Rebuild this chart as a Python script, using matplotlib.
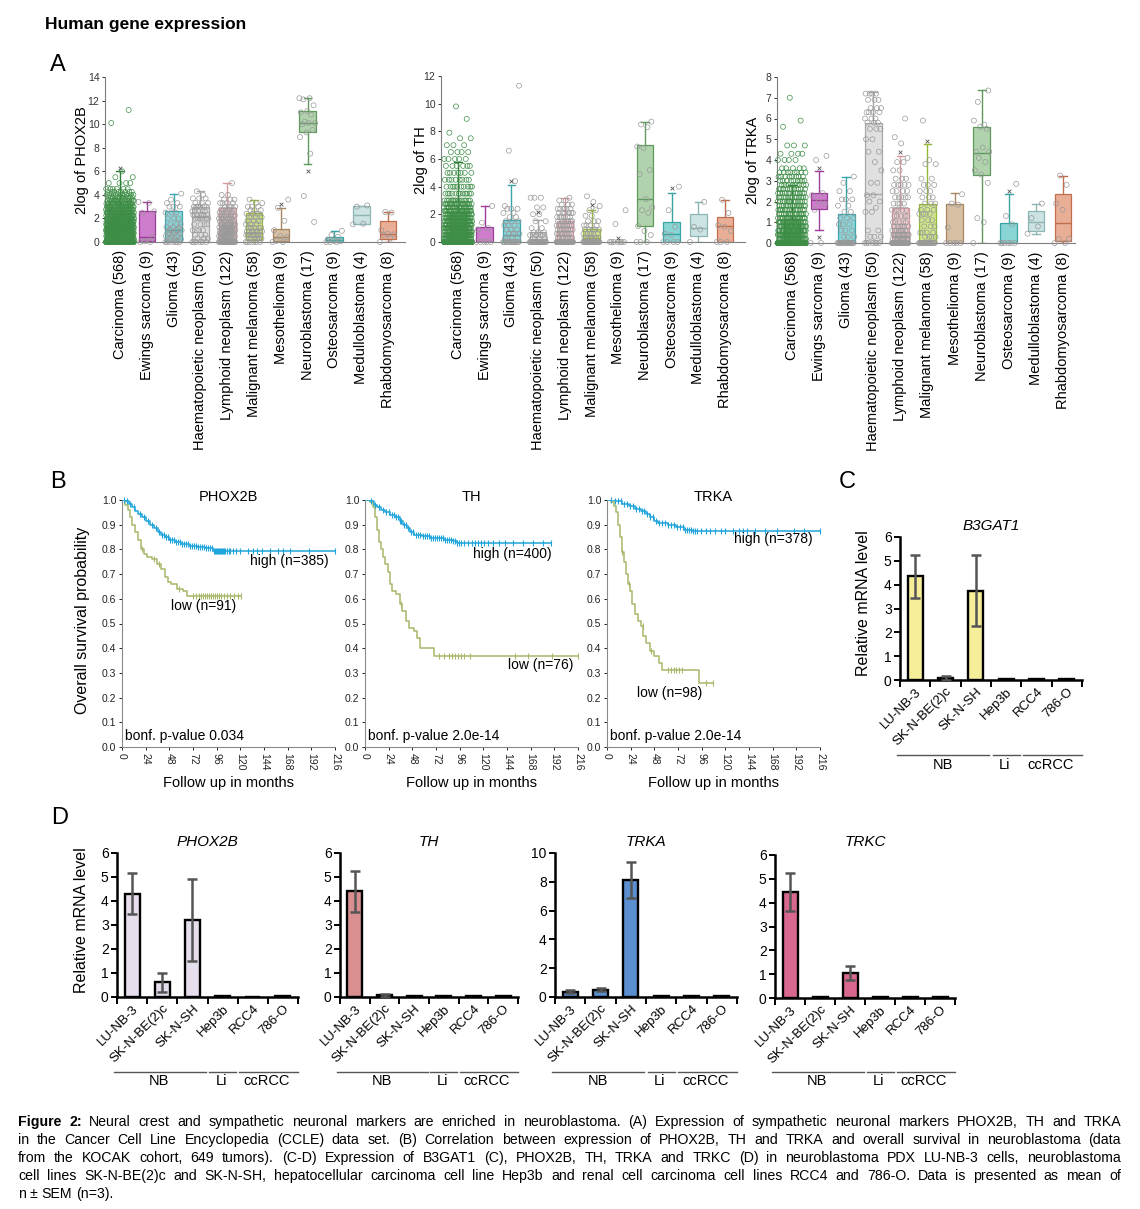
import numpy as np
import matplotlib
matplotlib.use("Agg")
import matplotlib.pyplot as plt
from matplotlib.colors import to_rgba
from matplotlib.transforms import blended_transform_factory

W, H = 1140, 1209
plt.rcParams['font.family'] = ['Liberation Sans', 'DejaVu Sans']


def binned(levels, counts):
    # expand a (value, count) reading of a dense dot cloud
    return list(np.repeat(levels, counts))


# ---------------- panel A : CCLE expression ----------------
TUMOURS = ["Carcinoma (568)", "Ewings sarcoma (9)", "Glioma (43)",
           "Haematopoietic neoplasm (50)", "Lymphoid neoplasm (122)",
           "Malignant melanoma (58)", "Mesothelioma (9)", "Neuroblastoma (17)",
           "Osteosarcoma (9)", "Medulloblastoma (4)", "Rhabdomyosarcoma (8)"]
BOX_FILL = ["#4BA85A", "#C15DBF", "#6CCBD0", "#D9D9D9", "#F7C1C7", "#C3E06A",
            "#CDB08E", "#9CC99A", "#6CCBCB", "#BFDCDC", "#E49A7C"]
BOX_EDGE = ["#2F7D3A", "#9C3D9A", "#3BA5AB", "#A8A8A8", "#D99AA2", "#94B83A",
            "#A88660", "#5F9A5D", "#3AA3A3", "#8FB5B5", "#C06E4E"]

# q1, median, q3, whisker low, whisker high
PHOX2B_BOX = [[0.2, 1.0, 2.4, 0.0, 6.0], [0.1, 0.45, 2.6, 0.0, 3.4],
              [0.0, 1.0, 2.6, 0.0, 4.1], [0.0, 2.1, 3.0, 0.0, 4.3],
              [0.0, 1.4, 2.9, 0.0, 5.0], [0.2, 0.8, 2.5, 0.0, 3.6],
              [0.1, 0.45, 1.1, 0.0, 2.9], [9.3, 10.1, 11.15, 6.6, 12.2],
              [0.0, 0.2, 0.45, 0.0, 0.95], [1.5, 2.3, 3.05, 1.5, 3.05],
              [0.25, 0.7, 1.75, 0.0, 2.55]]
TH_BOX = [[0.0, 0.4, 2.2, 0.0, 5.8], [0.0, 0.0, 1.1, 0.0, 2.6],
          [0.0, 0.5, 1.6, 0.0, 4.1], [0.0, 0.0, 0.7, 0.0, 1.6],
          [0.0, 0.0, 1.5, 0.0, 3.2], [0.0, 0.3, 0.95, 0.0, 2.3],
          [0.0, 0.0, 0.0, 0.0, 0.0], [1.15, 3.1, 7.0, 0.0, 8.7],
          [0.0, 0.6, 1.45, 0.0, 3.55], [0.4, 1.0, 2.0, 0.0, 2.9],
          [0.0, 1.15, 1.8, 0.0, 3.05]]
TRKA_BOX = [[0.0, 0.5, 1.15, 0.0, 2.8], [1.65, 2.05, 2.4, 0.65, 3.45],
            [0.0, 0.0, 1.4, 0.0, 3.2], [0.0, 2.35, 5.8, 0.0, 7.3],
            [0.0, 0.3, 1.7, 0.0, 4.2], [0.0, 0.0, 1.9, 0.0, 4.75],
            [0.0, 0.0, 1.9, 0.0, 2.4], [3.3, 4.35, 5.6, 0.0, 7.35],
            [0.0, 0.0, 0.95, 0.0, 2.35], [0.6, 1.0, 1.55, 0.45, 1.9],
            [0.1, 0.95, 2.35, 0.0, 3.25]]

PHOX2B_PTS = [
    binned([0, 0.25, 0.5, 0.75, 1, 1.25, 1.5, 1.75, 2, 2.25, 2.5, 2.75, 3, 3.25,
            3.5, 3.75, 4, 4.25, 4.5, 5, 5.5, 6, 10.1, 11.2],
           [130, 30, 35, 38, 40, 35, 32, 30, 28, 25, 24, 22, 20, 18, 15, 12, 10,
            8, 6, 4, 2, 1, 1, 1]),
    [3.4, 3.3, 2.5, 0.45, 0.1, 0, 0, 0.05, 2.6],
    binned([0, 0.25, 0.5, 0.75, 1, 1.25, 1.5, 2, 2.5, 3, 3.3, 3.6, 4.1],
           [7, 4, 4, 4, 5, 3, 3, 3, 3, 3, 2, 1, 1]),
    binned([0, 0.3, 0.6, 1, 1.5, 2, 2.3, 2.6, 3, 3.3, 3.7, 4, 4.3],
           [6, 3, 3, 4, 4, 6, 5, 5, 6, 3, 3, 1, 1]),
    binned([0, 0.25, 0.5, 0.75, 1, 1.25, 1.5, 1.75, 2, 2.25, 2.5, 2.75, 3, 3.3,
            3.6, 4, 5.0], [25, 8, 10, 10, 10, 8, 8, 6, 7, 6, 5, 5, 4, 4, 3, 2, 1]),
    binned([0, 0.3, 0.6, 0.9, 1.2, 1.5, 1.8, 2.1, 2.4, 2.7, 3, 3.3, 3.6],
           [6, 6, 8, 8, 5, 4, 4, 4, 4, 3, 3, 2, 1]),
    [0, 0, 0.1, 0.4, 0.5, 1.0, 1.8, 2.9, 3.6],
    [12.2, 12.2, 12.1, 11.6, 11.1, 11.0, 10.8, 10.2, 10.1, 10.1, 10.0, 9.5,
     9.3, 8.9, 7.5, 3.9, 1.7],
    [0, 0, 0, 0.05, 0.1, 0.2, 0.45, 0.6, 0.95],
    [1.5, 1.55, 3.0, 3.1],
    [0, 0.3, 0.6, 0.65, 0.7, 1.0, 2.5, 2.55],
]
TH_PTS = [
    binned([0, 0.25, 0.5, 0.75, 1, 1.25, 1.5, 1.75, 2, 2.25, 2.5, 2.75, 3, 3.5,
            4, 4.5, 5, 5.5, 6, 6.5, 7, 7.5, 7.9, 8.9, 9.8],
           [213, 35, 35, 30, 30, 28, 25, 22, 22, 20, 18, 16, 14, 12, 10, 8, 7, 6,
            5, 4, 3, 2, 1, 1, 1]),
    [0, 0, 0, 0, 0, 0.9, 1.0, 1.4, 2.6],
    binned([0, 0.3, 0.6, 0.9, 1.2, 1.5, 1.8, 2.1, 2.4, 2.6, 4.4, 6.6, 11.3],
           [15, 4, 4, 3, 3, 3, 2, 2, 3, 1, 1, 1, 1]),
    binned([0, 0.25, 0.5, 0.7, 1.0, 1.5, 2.0, 2.5, 3.2],
           [28, 4, 4, 3, 2, 2, 2, 2, 3]),
    binned([0, 0.3, 0.6, 0.9, 1.2, 1.5, 1.8, 2.1, 2.4, 2.7, 3.0, 3.2],
           [60, 8, 8, 8, 8, 7, 6, 6, 5, 3, 2, 1]),
    binned([0, 0.3, 0.6, 0.9, 1.2, 1.5, 1.9, 2.3, 2.6, 2.9, 3.3],
           [25, 8, 6, 5, 4, 3, 2, 2, 1, 1, 1]),
    [0, 0, 0, 0, 0, 0, 0, 1.3, 2.3],
    [0, 0, 0, 0.5, 0.8, 1.15, 2.1, 2.3, 2.5, 3.1, 4.9, 5.2, 6.8, 6.9, 8.3,
     8.5, 8.7],
    [0, 0, 0, 0, 0.5, 0.6, 1.1, 2.3, 4.0],
    [0, 0.9, 1.1, 2.9],
    [0, 0, 0, 0.8, 1.1, 1.2, 2.1, 3.05],
]
TRKA_PTS = [
    binned([0, 0.2, 0.4, 0.6, 0.8, 1.0, 1.2, 1.4, 1.6, 1.8, 2.0, 2.2, 2.4, 2.6,
            2.8, 3.0, 3.2, 3.4, 3.6, 4.0, 4.3, 4.7, 5.6, 5.9, 7.0],
           [269, 30, 30, 28, 25, 22, 18, 15, 14, 14, 14, 13, 12, 10, 10, 9, 8, 8,
            5, 4, 4, 3, 1, 1, 1]),
    [0, 0, 1.6, 1.9, 2.0, 2.3, 2.4, 4.0, 4.2],
    binned([0, 0.3, 0.6, 0.9, 1.2, 1.5, 1.8, 2.1, 2.5, 2.9, 3.2],
           [20, 3, 3, 3, 3, 2, 2, 3, 2, 1, 1]),
    binned([0, 0.3, 0.6, 1.5, 1.7, 2.0, 2.3, 2.9, 3.5, 3.9, 4.4, 5.0, 5.5, 5.8,
            6.0, 6.3, 6.5, 6.9, 7.2],
           [7, 3, 2, 2, 1, 2, 2, 2, 1, 1, 2, 2, 3, 3, 3, 4, 3, 3, 4]),
    binned([0, 0.2, 0.4, 0.6, 0.8, 1.0, 1.3, 1.6, 1.9, 2.2, 2.5, 2.8, 3.1, 3.5,
            3.9, 4.1, 4.8, 5.1, 6.0],
           [40, 12, 12, 8, 6, 5, 5, 5, 4, 5, 4, 5, 3, 2, 2, 1, 1, 1, 1]),
    binned([0, 0.3, 0.5, 0.8, 1.1, 1.4, 1.6, 1.9, 2.2, 2.5, 2.8, 3.1, 3.8, 4.0,
            5.9], [19, 4, 4, 3, 3, 4, 3, 3, 3, 3, 3, 2, 2, 1, 1]),
    [0, 0, 0, 0, 0, 0.75, 1.85, 1.9, 2.35],
    [0, 1.0, 1.2, 2.9, 3.3, 3.5, 3.9, 4.1, 4.4, 4.6, 4.4, 5.5, 5.6, 5.9, 5.7,
     6.8, 7.35],
    [0, 0, 0, 0, 0, 0, 0.9, 1.3, 2.85],
    [0.45, 0.8, 1.2, 1.9],
    [0, 0, 0.2, 0.2, 1.6, 1.9, 2.8, 3.25],
]
# small "x" marks: (tumour index, value)
PHOX2B_X = [(0, 6.3), (6, 3.2), (7, 6.0)]
TH_X = [(2, 4.4), (3, 2.2), (5, 2.65), (6, 0.3), (8, 3.9)]
TRKA_X = [(1, 3.6), (1, 0.3), (4, 4.4), (5, 4.9), (8, 2.5)]

# ---------------- panel B : Kaplan-Meier ----------------
KM_MONTHS = [0, 24, 48, 72, 96, 120, 144, 168, 192, 216]
KM_GENES = ["PHOX2B", "TH", "TRKA"]
PHOX2B_HIGH_T = [0, 4, 7, 10, 13, 16, 20, 24, 28, 32, 36, 40, 44, 48, 54, 60, 68, 76, 84, 92]
PHOX2B_HIGH_S = [1.0, 0.995, 0.985, 0.97, 0.955, 0.945, 0.93, 0.915, 0.9, 0.885, 0.87,
                 0.86, 0.85, 0.84, 0.83, 0.82, 0.815, 0.81, 0.805, 0.793]
PHOX2B_HIGH_CENS = [2, 5, 8, 12, 18, 22, 26, 30, 34, 38, 41, 43, 45, 47, 49, 51, 53, 55,
                    57, 59, 61, 63, 65, 67, 69, 71, 73, 75, 77, 79, 81, 83, 85, 87, 89,
                    91, 93, 94, 95, 96, 97, 98, 99, 100, 101, 102, 103, 104, 106, 108,
                    110, 113, 116, 120, 128, 133, 137, 142, 150, 158, 163, 170, 190, 216]
PHOX2B_LOW_T = [0, 3, 6, 8, 10, 13, 16, 19, 22, 25, 30, 35, 40, 44, 47, 50, 56, 62, 66]
PHOX2B_LOW_S = [1.0, 0.98, 0.96, 0.93, 0.9, 0.87, 0.84, 0.8, 0.78, 0.77, 0.76, 0.74,
                0.72, 0.69, 0.67, 0.66, 0.64, 0.63, 0.61]
PHOX2B_LOW_CENS = [20, 32, 38, 58, 72, 75, 78, 80, 82, 84, 86, 88, 90, 92, 94, 96, 98,
                   100, 103, 106, 110, 114, 118, 121]

TH_HIGH_T = [0, 5, 9, 12, 16, 20, 25, 30, 35, 39, 43, 46, 50, 58, 66, 80, 89, 93]
TH_HIGH_S = [1.0, 0.995, 0.98, 0.97, 0.96, 0.95, 0.94, 0.93, 0.915, 0.9, 0.885, 0.87,
             0.86, 0.855, 0.845, 0.84, 0.835, 0.824]
TH_HIGH_CENS = [6, 10, 14, 18, 21, 24, 27, 29, 31, 33, 35, 37, 40, 42, 44, 47, 49, 52,
                54, 56, 59, 61, 63, 65, 67, 69, 71, 73, 75, 77, 79, 81, 83, 85, 87, 89,
                91, 93, 95, 97, 100, 104, 108, 112, 115, 118, 121, 125, 130, 136, 142,
                150, 160, 170, 180, 189]
TH_LOW_T = [0, 5, 8, 10, 12, 14, 16, 18, 20, 23, 25, 27, 31, 35, 38, 42, 45, 50, 53, 56, 70]
TH_LOW_S = [1.0, 0.99, 0.97, 0.93, 0.88, 0.83, 0.8, 0.77, 0.74, 0.71, 0.66, 0.63, 0.62,
            0.58, 0.55, 0.51, 0.48, 0.47, 0.44, 0.4, 0.37]
TH_LOW_CENS = [36, 75, 80, 85, 88, 91, 94, 97, 100, 106, 152, 165, 190, 216]

TRKA_HIGH_T = [0, 8, 15, 22, 28, 34, 40, 44, 48, 52, 62, 70, 78, 86]
TRKA_HIGH_S = [1.0, 0.995, 0.985, 0.975, 0.965, 0.955, 0.945, 0.93, 0.915, 0.905, 0.9,
               0.89, 0.88, 0.875]
TRKA_HIGH_CENS = [4, 8, 11, 14, 17, 20, 23, 26, 29, 32, 35, 38, 41, 44, 47, 50, 53, 56,
                  59, 62, 65, 68, 71, 74, 77, 79, 81, 83, 85, 87, 89, 91, 95, 100, 104,
                  110, 116, 120, 128, 134, 138, 142, 150, 160, 172, 190, 200, 216]
TRKA_LOW_T = [0, 4, 7, 9, 11, 13, 15, 17, 19, 21, 23, 25, 28, 31, 34, 37, 40, 44, 48,
              53, 56, 93]
TRKA_LOW_S = [1.0, 0.99, 0.975, 0.95, 0.9, 0.85, 0.79, 0.75, 0.7, 0.66, 0.63, 0.58,
              0.54, 0.51, 0.49, 0.45, 0.42, 0.39, 0.37, 0.34, 0.31, 0.26]
TRKA_LOW_CENS = [15, 22, 36, 45, 62, 65, 68, 70, 73, 76, 100, 107]

KM_HIGH_END = [216, 189, 216]
KM_LOW_END = [121, 216, 107]
KM_HIGH_LABEL = ["high (n=385)", "high (n=400)", "high (n=378)"]
KM_LOW_LABEL = ["low (n=91)", "low (n=76)", "low (n=98)"]
KM_PVALUE = ["bonf. p-value 0.034", "bonf. p-value 2.0e-14", "bonf. p-value 2.0e-14"]
# label anchors (months, survival)
KM_HIGH_POS = [(170, 0.753), (149, 0.78), (169, 0.842)]
KM_LOW_POS = [(83, 0.571), (178, 0.33), (64, 0.219)]

# ---------------- panels C-D : qPCR ----------------
CELL_LINES = ["LU-NB-3", "SK-N-BE(2)c", "SK-N-SH", "Hep3b", "RCC4", "786-O"]
GROUPS = [("NB", -0.6, 2.45, 0.9), ("Li", 2.55, 3.45, 2.95), ("ccRCC", 3.55, 5.5, 4.45)]
B3GAT1_MEAN = [4.35, 0.10, 3.75, 0.03, 0.03, 0.03]
B3GAT1_SEM = [0.9, 0.08, 1.5, 0, 0, 0]
PHOX2B_MEAN = [4.3, 0.62, 3.2, 0.03, 0.0, 0.03]
PHOX2B_SEM = [0.85, 0.4, 1.7, 0, 0, 0]
TH_MEAN = [4.4, 0.07, 0.03, 0.03, 0.03, 0.03]
TH_SEM = [0.85, 0.05, 0, 0, 0, 0]
TRKA_MEAN = [0.38, 0.52, 8.15, 0.05, 0.05, 0.05]
TRKA_SEM = [0.12, 0.1, 1.25, 0, 0, 0]
TRKC_MEAN = [4.45, 0.03, 1.05, 0.03, 0.03, 0.03]
TRKC_SEM = [0.8, 0, 0.28, 0, 0, 0]

CAPTION = [
    "Neural crest and sympathetic neuronal markers are enriched in neuroblastoma. (A) Expression of sympathetic neuronal markers PHOX2B, TH and TRKA",
    "in the Cancer Cell Line Encyclopedia (CCLE) data set. (B) Correlation between expression of PHOX2B, TH and TRKA and overall survival in neuroblastoma (data",
    "from the KOCAK cohort, 649 tumors). (C-D) Expression of B3GAT1 (C), PHOX2B, TH, TRKA and TRKC (D) in neuroblastoma PDX LU-NB-3 cells, neuroblastoma",
    "cell lines SK-N-BE(2)c and SK-N-SH, hepatocellular carcinoma cell line Hep3b and renal cell carcinoma cell lines RCC4 and 786-O. Data is presented as mean of",
    "n \u00b1 SEM (n=3).",
]


def px_axes(fig, left, top, right, bottom):
    return fig.add_axes([left / W, 1 - bottom / H, (right - left) / W, (bottom - top) / H])


def fy(py):
    return 1 - py / H


def draw_box_panel(ax, boxes, points, marks, ymax, xlim):
    stats = [dict(q1=b[0], med=b[1], q3=b[2], whislo=b[3], whishi=b[4], fliers=[])
             for b in boxes]
    art = ax.bxp(stats, positions=range(len(boxes)), widths=0.62, patch_artist=True,
                 showfliers=False, capwidths=0.28, manage_ticks=False)
    for i, patch in enumerate(art['boxes']):
        patch.set_facecolor(to_rgba(BOX_FILL[i], 0.8))
        patch.set_edgecolor(BOX_EDGE[i])
        patch.set_linewidth(0.9)
        patch.set_zorder(2)
        for ln in art['whiskers'][2 * i:2 * i + 2] + art['caps'][2 * i:2 * i + 2]:
            ln.set_color(BOX_EDGE[i])
            ln.set_linewidth(1.0)
        art['medians'][i].set_color(BOX_EDGE[i])
        art['medians'][i].set_linewidth(1.0)
    for i, vals in enumerate(points):
        n = len(vals)
        spread = 1.05 if n > 200 else 0.62
        offs = ((np.arange(n) * 0.618034) % 1.0 - 0.5) * spread
        col = "#3E8E47" if i == 0 else "#999999"
        ax.scatter(i + offs, vals, s=13, facecolors='none', edgecolors=col,
                   linewidths=0.5, zorder=3, clip_on=False)
    for i, v in marks:
        ax.scatter(i, v, marker='x', s=7, color='#555555', linewidths=0.6, zorder=4)
    ax.set_xlim(*xlim)
    ax.set_ylim(0, ymax)
    ax.set_xticks(range(len(TUMOURS)))
    ax.set_xticklabels(TUMOURS, rotation=90, fontsize=10.5)
    ax.tick_params(axis='x', length=0, pad=6)
    ax.tick_params(axis='y', labelsize=7.5, length=2.5, width=0.7, pad=1.5,
                   colors='#333333')
    for s in ['top', 'right']:
        ax.spines[s].set_visible(False)
    for s in ['left', 'bottom']:
        ax.spines[s].set_color('#7f7f7f')
        ax.spines[s].set_linewidth(0.8)


def draw_km(ax, k, hi_t, hi_s, hi_c, lo_t, lo_s, lo_c):
    for t, s, c, end, col in [(lo_t, lo_s, lo_c, KM_LOW_END[k], "#A7B86A"),
                              (hi_t, hi_s, hi_c, KM_HIGH_END[k], "#1FA4DB")]:
        ax.step(t + [end], s + [s[-1]], where='post', color=col, lw=1.1, zorder=3)
        cs = np.array(c)
        idx = np.searchsorted(np.array(t), cs, side='right') - 1
        ax.plot(cs, np.array(s)[idx], '|', ms=4, mew=0.8, color=col, zorder=3,
                clip_on=False)
    ax.set_xlim(0, 216)
    ax.set_ylim(0, 1)
    ax.set_xticks(KM_MONTHS)
    ax.set_xticklabels([str(m) for m in KM_MONTHS], rotation=270, fontsize=7.5)
    ax.set_yticks(np.round(np.arange(0, 1.01, 0.1), 1))
    ax.set_yticklabels([f"{v:.1f}" for v in np.arange(0, 1.01, 0.1)], fontsize=7.5)
    ax.tick_params(length=2.5, width=0.7, pad=1.5, colors='#222222')
    for s in ['top', 'right']:
        ax.spines[s].set_visible(False)
    for s in ['left', 'bottom']:
        ax.spines[s].set_color('#8a8a8a')
        ax.spines[s].set_linewidth(0.8)
    ax.text(0.5, 1.012, KM_GENES[k], transform=ax.transAxes, ha='center', va='center',
            fontsize=10.5)
    ax.text(*KM_HIGH_POS[k], KM_HIGH_LABEL[k], ha='center', va='center', fontsize=10)
    ax.text(*KM_LOW_POS[k], KM_LOW_LABEL[k], ha='center', va='center', fontsize=10)
    ax.text(3, 0.045, KM_PVALUE[k], ha='left', va='center', fontsize=10)
    ax.set_xlabel("Follow up in months", fontsize=10.5, labelpad=4)


def draw_bar_panel(fig, ax, means, sems, color, title, ymax, ystep, line_py, text_py,
                   title_pad=5):
    x = np.arange(len(CELL_LINES))
    ax.bar(x, means, width=0.5, color=color, edgecolor='black', linewidth=1.7, zorder=2)
    m = np.array(sems) > 0
    ax.errorbar(x[m], np.array(means)[m], yerr=np.array(sems)[m], fmt='none',
                ecolor='#555555', elinewidth=1.8, capsize=3.5, capthick=1.8, zorder=3)
    ax.set_xlim(-0.5, 5.5)
    ax.set_ylim(0, ymax)
    ax.set_yticks(np.arange(0, ymax + 0.01, ystep))
    ax.set_xticks(np.arange(-0.5, 6, 1))
    ax.set_xticklabels([])
    ax.set_xticks(x, minor=True)
    ax.set_xticklabels(CELL_LINES, minor=True, rotation=45, ha='right', va='top',
                       rotation_mode='anchor', fontsize=9.5)
    ax.tick_params(axis='x', which='major', length=5, width=1.4)
    ax.tick_params(axis='x', which='minor', length=0, pad=4)
    ax.tick_params(axis='y', length=4, width=1.4, labelsize=10, pad=2)
    for s in ['top', 'right']:
        ax.spines[s].set_visible(False)
    for s in ['left', 'bottom']:
        ax.spines[s].set_linewidth(1.8)
    ax.set_title(title, style='italic', fontsize=11, pad=title_pad)
    tr = blended_transform_factory(ax.transData, fig.transFigure)
    for name, x0, x1, xc in GROUPS:
        ax.plot([x0, x1], [fy(line_py), fy(line_py)], color='#555555', lw=1.0,
                transform=tr, clip_on=False)
        ax.text(xc, fy(text_py), name, transform=tr, ha='center', va='center',
                fontsize=10.5)


def justified(fig, words, x0, x1, base_py, size, justify=True):
    r = fig.canvas.get_renderer()
    objs = [fig.text(0, fy(base_py), w, fontsize=size, fontweight=wt, va='baseline')
            for w, wt in words]
    widths = [o.get_window_extent(r).width for o in objs]
    if justify:
        gap = ((x1 - x0) - sum(widths)) / (len(objs) - 1)
    else:
        gap = size * 0.28 * 100 / 72
    x = x0
    for o, w in zip(objs, widths):
        o.set_x(x / W)
        x += w + gap


fig = plt.figure(figsize=(W / 100, H / 100), dpi=100)

fig.text(45 / W, fy(25), "Human gene expression", fontsize=12.5, fontweight='bold',
         va='center')
for letter, px, py in [("A", 58, 65), ("B", 58, 482), ("C", 847, 482), ("D", 60, 818)]:
    fig.text(px / W, fy(py), letter, fontsize=17, ha='center', va='center')

# panel A
axA1 = px_axes(fig, 105, 77, 405, 242)
draw_box_panel(axA1, PHOX2B_BOX, PHOX2B_PTS, PHOX2B_X, 14, (-0.56, 10.63))
axA1.set_yticks(range(0, 15, 2))
axA2 = px_axes(fig, 441, 76, 745, 242)
draw_box_panel(axA2, TH_BOX, TH_PTS, TH_X, 12, (-0.64, 10.75))
axA2.set_yticks(range(0, 13, 2))
axA3 = px_axes(fig, 777, 77, 1075, 243)
draw_box_panel(axA3, TRKA_BOX, TRKA_PTS, TRKA_X, 8, (-0.55, 10.44))
axA3.set_yticks(range(0, 9, 1))
for px, label in [(82, "2log of PHOX2B"), (421, "2log of TH"), (753, "2log of TRKA")]:
    fig.text(px / W, fy(160), label, rotation=90, ha='center', va='center', fontsize=10.5)

# panel B
km_data = [(PHOX2B_HIGH_T, PHOX2B_HIGH_S, PHOX2B_HIGH_CENS, PHOX2B_LOW_T, PHOX2B_LOW_S, PHOX2B_LOW_CENS),
           (TH_HIGH_T, TH_HIGH_S, TH_HIGH_CENS, TH_LOW_T, TH_LOW_S, TH_LOW_CENS),
           (TRKA_HIGH_T, TRKA_HIGH_S, TRKA_HIGH_CENS, TRKA_LOW_T, TRKA_LOW_S, TRKA_LOW_CENS)]
for k, left in enumerate([122, 365, 607]):
    ax = px_axes(fig, left, 500, left + 213, 747)
    draw_km(ax, k, *km_data[k])
fig.text(83 / W, fy(620), "Overall survival probability", rotation=90, ha='center',
         va='center', fontsize=11.5)

# panel C
axC = px_axes(fig, 900, 537, 1082, 680)
draw_bar_panel(fig, axC, B3GAT1_MEAN, B3GAT1_SEM, "#F7EE9A", "B3GAT1", 6, 1, 755, 765)
fig.text(863 / W, fy(603), "Relative mRNA level", rotation=90, ha='center', va='center',
         fontsize=11.5)

# panel D
axD1 = px_axes(fig, 117, 853, 298, 997)
draw_bar_panel(fig, axD1, PHOX2B_MEAN, PHOX2B_SEM, "#E6DDED", "PHOX2B", 6, 1, 1072, 1081)
axD2 = px_axes(fig, 340, 853, 518, 997)
draw_bar_panel(fig, axD2, TH_MEAN, TH_SEM, "#D98F8F", "TH", 6, 1, 1072, 1081)
axD3 = px_axes(fig, 555, 853, 737, 997)
draw_bar_panel(fig, axD3, TRKA_MEAN, TRKA_SEM, "#5B8FD0", "TRKA", 10, 2, 1072, 1081)
axD4 = px_axes(fig, 775, 855, 955, 998)
draw_bar_panel(fig, axD4, TRKC_MEAN, TRKC_SEM, "#D96890", "TRKC", 6, 1, 1072, 1081,
               title_pad=6.5)
fig.text(82 / W, fy(920), "Relative mRNA level", rotation=90, ha='center', va='center',
         fontsize=11.5)

# caption
for i, line in enumerate(CAPTION):
    words = [(w, 'normal') for w in line.split(" ")]
    if i == 0:
        words = [("Figure", 'bold'), ("2:", 'bold')] + words
    justified(fig, words, 18, 1121, 1126 + 18 * i, 10.2, justify=(i < len(CAPTION) - 1))

fig.savefig("out.png", dpi=100)
